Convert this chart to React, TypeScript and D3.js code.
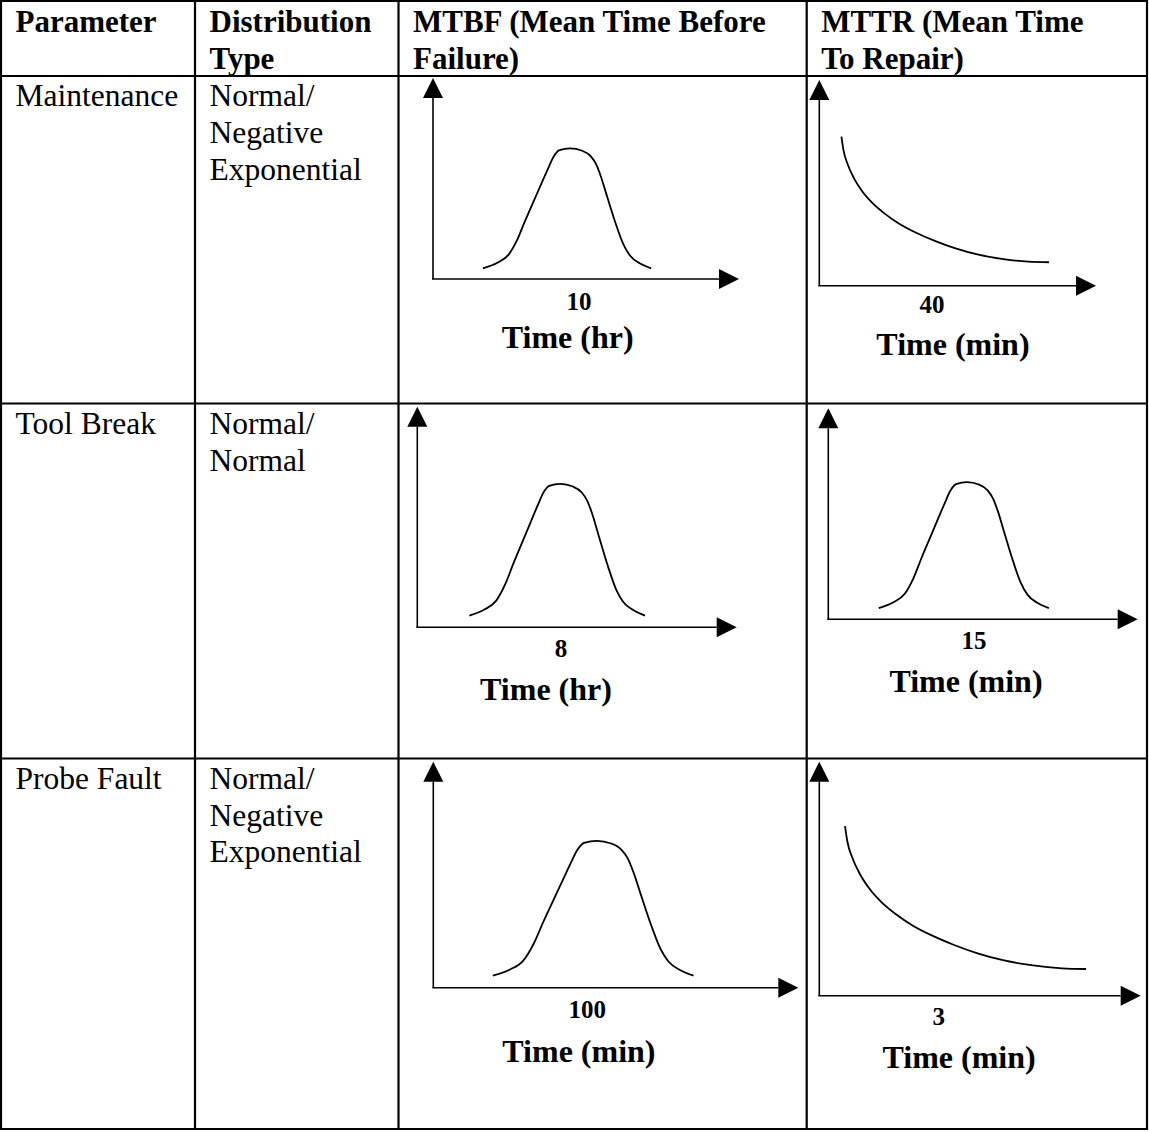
import { useEffect, useRef } from 'react';
import * as d3 from 'd3';

// Table content
const headers = [
  ['Parameter'],
  ['Distribution', 'Type'],
  ['MTBF (Mean Time Before', 'Failure)'],
  ['MTTR (Mean Time', 'To Repair)'],
];
const parameters = ['Maintenance', 'Tool Break', 'Probe Fault'];
const distributionTypes = [
  ['Normal/', 'Negative', 'Exponential'],
  ['Normal/', 'Normal'],
  ['Normal/', 'Negative', 'Exponential'],
];
const mtbfValues = ['10', '8', '100'];
const mtbfUnits = ['Time (hr)', 'Time (hr)', 'Time (min)'];
const mtbfShapes = ['normal', 'normal', 'normal'];
const mttrValues = ['40', '15', '3'];
const mttrUnits = ['Time (min)', 'Time (min)', 'Time (min)'];
const mttrShapes = ['exponential', 'normal', 'exponential'];

// Sketched curves (u = across, v = up, both 0..1)
const bellU = [0, 0.086, 0.153, 0.203, 0.252, 0.302, 0.352, 0.39, 0.42, 0.455, 0.518, 0.59, 0.64, 0.672, 0.7, 0.74, 0.79, 0.835, 0.875, 0.935, 1];
const bellV = [0, 0.046, 0.114, 0.235, 0.4, 0.56, 0.72, 0.84, 0.93, 0.985, 1, 0.98, 0.935, 0.87, 0.77, 0.59, 0.37, 0.2, 0.105, 0.04, 0];
const decayU = [0, 0.01, 0.03, 0.06, 0.1, 0.15, 0.21, 0.28, 0.36, 0.45, 0.55, 0.66, 0.78, 0.9, 1];
const decayV = [1, 0.89, 0.78, 0.67, 0.565, 0.47, 0.385, 0.305, 0.235, 0.17, 0.11, 0.06, 0.025, 0.005, 0];

const W = 1149;
const H = 1132;
const FONT = "'Liberation Serif', 'Times New Roman', serif";

// table grid
const colX = [1, 195, 398.5, 806.7, 1147];
const rowY = [1, 76, 403.5, 758.5, 1129];
const LINE_H = 36.8;

// where each sketch sits inside its axes, % of axis length
const shapeBox: Record<string, { x: [number, number]; y: [number, number] }> = {
  normal: { x: [16.3, 71.3], y: [5.3, 65] },
  exponential: { x: [8, 83], y: [11.4, 72.5] },
};

// axes frames: origin, x tip, y tip; label spots in % of x axis / px below
const mtbfFrames = [
  { ox: 433, oy: 279, x1: 739, y1: 78, num: [47.7, 31], unit: [44, 69.3] },
  { ox: 417.3, oy: 627.3, x1: 736.7, y1: 406.7, num: [45, 29.4], unit: [40.3, 72.7] },
  { ox: 433.3, oy: 987.7, x1: 798.3, y1: 761.7, num: [42.2, 30.6], unit: [39.9, 74] },
];
const mttrFrames = [
  { ox: 819.3, oy: 285.7, x1: 1096, y1: 80, num: [40.7, 27.6], unit: [48.3, 69.3] },
  { ox: 828.3, oy: 619.3, x1: 1137.7, y1: 408.3, num: [47.1, 30], unit: [44.5, 72.4] },
  { ox: 819.3, oy: 995.7, x1: 1140.7, y1: 761.7, num: [37.2, 29.3], unit: [43.5, 72.6] },
];

export default function App() {
  const svgRef = useRef<SVGSVGElement>(null);

  useEffect(() => {
    if (!svgRef.current) return;
    const svg = d3.select(svgRef.current);
    svg.selectAll('*').remove();

    svg.append('rect').attr('width', W).attr('height', H).attr('fill', '#fff');

    // Grid lines
    const grid = svg.append('g').attr('stroke', '#000').attr('stroke-width', 2.2);
    rowY.forEach(y => {
      grid.append('line').attr('x1', colX[0] - 1).attr('x2', colX[4] + 1).attr('y1', y).attr('y2', y);
    });
    colX.forEach(x => {
      grid.append('line').attr('x1', x).attr('x2', x).attr('y1', rowY[0] - 1).attr('y2', rowY[4] + 1);
    });

    // Header
    headers.forEach((lines, c) => {
      lines.forEach((t, i) => {
        svg.append('text')
          .attr('x', colX[c] + 14.5)
          .attr('y', rowY[0] + 30.7 + i * LINE_H)
          .style('font-family', FONT)
          .style('font-size', '31px')
          .style('font-weight', '700')
          .text(t);
      });
    });

    // Body text
    parameters.forEach((p, r) => {
      svg.append('text')
        .attr('x', colX[0] + 14.5)
        .attr('y', rowY[r + 1] + 30.3)
        .style('font-family', FONT)
        .style('font-size', '31.5px')
        .text(p);
      distributionTypes[r].forEach((t, i) => {
        svg.append('text')
          .attr('x', colX[1] + 14.5)
          .attr('y', rowY[r + 1] + 30.3 + i * LINE_H)
          .style('font-family', FONT)
          .style('font-size', '31.5px')
          .text(t);
      });
    });

    const line = d3.line<[number, number]>()
      .x(d => d[0])
      .y(d => d[1])
      .curve(d3.curveMonotoneX);

    const drawChart = (
      f: typeof mtbfFrames[number],
      shape: string,
      value: string,
      unit: string,
    ) => {
      const g = svg.append('g');
      const xScale = d3.scaleLinear().domain([0, 100]).range([f.ox, f.x1]);
      const yScale = d3.scaleLinear().domain([0, 100]).range([f.oy, f.y1]);
      const arrow = 20;
      const half = 10;

      // axes
      g.append('line')
        .attr('x1', xScale(0)).attr('x2', xScale(0))
        .attr('y1', yScale(0)).attr('y2', yScale(100) + arrow)
        .attr('stroke', '#000').attr('stroke-width', 1.6);
      g.append('path')
        .attr('d', `M${xScale(0)},${yScale(100)}L${xScale(0) - half},${yScale(100) + arrow}L${xScale(0) + half},${yScale(100) + arrow}Z`)
        .attr('fill', '#000');
      g.append('line')
        .attr('x1', xScale(0) - 1).attr('x2', xScale(100) - arrow)
        .attr('y1', yScale(0)).attr('y2', yScale(0))
        .attr('stroke', '#000').attr('stroke-width', 1.6);
      g.append('path')
        .attr('d', `M${xScale(100)},${yScale(0)}L${xScale(100) - arrow},${yScale(0) - half}L${xScale(100) - arrow},${yScale(0) + half}Z`)
        .attr('fill', '#000');

      // sketched curve
      const box = shapeBox[shape];
      const u = d3.scaleLinear().domain([0, 1]).range(box.x);
      const v = d3.scaleLinear().domain([0, 1]).range(box.y);
      const us = shape === 'normal' ? bellU : decayU;
      const vs = shape === 'normal' ? bellV : decayV;
      const pts: [number, number][] = us.map((uu, i) => [xScale(u(uu)), yScale(v(vs[i]))]);
      g.append('path')
        .attr('d', line(pts))
        .attr('fill', 'none')
        .attr('stroke', '#000')
        .attr('stroke-width', 1.8);

      // labels
      g.append('text')
        .attr('x', xScale(f.num[0]))
        .attr('y', yScale(0) + f.num[1])
        .attr('text-anchor', 'middle')
        .style('font-family', FONT)
        .style('font-size', '25px')
        .style('font-weight', '700')
        .text(value);
      g.append('text')
        .attr('x', xScale(f.unit[0]))
        .attr('y', yScale(0) + f.unit[1])
        .attr('text-anchor', 'middle')
        .style('font-family', FONT)
        .style('font-size', '32px')
        .style('font-weight', '700')
        .text(unit);
    };

    mtbfFrames.forEach((f, r) => drawChart(f, mtbfShapes[r], mtbfValues[r], mtbfUnits[r]));
    mttrFrames.forEach((f, r) => drawChart(f, mttrShapes[r], mttrValues[r], mttrUnits[r]));
  }, []);

  return (
    <div style={{ position: 'absolute', left: 0, top: 0 }}>
      <svg ref={svgRef} width={W} height={H} style={{ display: 'block' }} />
    </div>
  );
}
